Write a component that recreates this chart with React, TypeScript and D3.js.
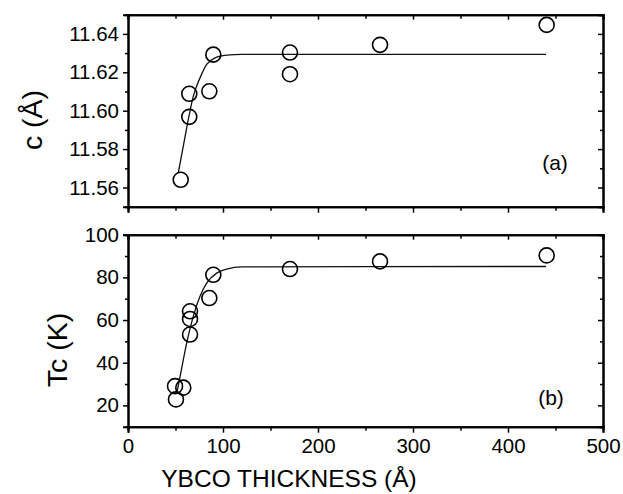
import React, { useEffect, useRef } from 'react';
import * as d3 from 'd3';

const cThickness = [55.5, 64.5, 64.5, 85.6, 89.8, 170.5, 170.5, 265.3, 440.7];
const cValues = [11.564, 11.6088, 11.5968, 11.6101, 11.6292, 11.6303, 11.619, 11.6343, 11.6447];
const cFitX = [53, 58, 64.5, 68.7, 72, 75.8, 82.8, 91.6, 103.9, 120, 440];
const cFitY = [11.5678, 11.581, 11.598, 11.6075, 11.6125, 11.6171, 11.6241, 11.6275, 11.6289, 11.6293, 11.6293];

const tcThickness = [50.5, 49.5, 58.2, 65.3, 65.3, 65.3, 85.6, 89.8, 170.5, 265.3, 440.7];
const tcValues = [22.8, 29, 28.3, 53.2, 60.5, 64.1, 70.3, 81.2, 83.9, 87.5, 90.3];
const tcFitX = [51.5, 56, 61.8, 68.7, 75.8, 82.8, 93.3, 103.9, 120, 440];
const tcFitY = [26, 36.2, 49.3, 61.7, 71.1, 77.3, 82.0, 83.9, 84.9, 85.1];

const xTicks = [0, 100, 200, 300, 400, 500];
const cTicks = [11.56, 11.58, 11.6, 11.62, 11.64];
const tcTicks = [20, 40, 60, 80, 100];

const FONT = "Arial, 'Liberation Sans', sans-serif";

export default function App() {
  const ref = useRef<SVGSVGElement>(null);

  useEffect(() => {
    const svg = d3.select(ref.current);
    svg.selectAll('*').remove();

    const left = 128, right = 603;
    const x = d3.scaleLinear().domain([0, 500]).range([left, right]);
    const xMinor = d3.range(50, 500, 100);

    const panels = [
      {
        top: 14.7, bottom: 206.7, domain: [11.55, 11.65], ticks: cTicks,
        minor: d3.range(11.55, 11.651, 0.02).map(v => +v.toFixed(3)), fmt: d3.format('.2f'),
        xs: cThickness, ys: cValues, fx: cFitX, fy: cFitY,
        letter: '(a)', lx: 555, ly: 170, xLabels: false,
      },
      {
        top: 234.7, bottom: 426.7, domain: [10, 100], ticks: tcTicks,
        minor: d3.range(10, 100, 20), fmt: d3.format('d'),
        xs: tcThickness, ys: tcValues, fx: tcFitX, fy: tcFitY,
        letter: '(b)', lx: 551, ly: 405, xLabels: true,
      },
    ];

    panels.forEach(p => {
      const y = d3.scaleLinear().domain(p.domain).range([p.bottom, p.top]);
      const g = svg.append('g');

      // bottom axis, outward ticks
      const bx = g.append('g').attr('transform', `translate(0,${p.bottom})`)
        .call(d3.axisBottom(x).tickValues(xTicks).tickSize(6).tickPadding(4)
          .tickFormat(p.xLabels ? d3.format('d') : () => ''));
      g.append('g').attr('transform', `translate(0,${p.bottom})`)
        .call(d3.axisBottom(x).tickValues(xMinor).tickSize(4).tickFormat(() => ''));
      // top mirror, inward ticks
      g.append('g').attr('transform', `translate(0,${p.top})`)
        .call(d3.axisTop(x).tickValues(xTicks).tickSize(-5).tickFormat(() => ''));
      g.append('g').attr('transform', `translate(0,${p.top})`)
        .call(d3.axisTop(x).tickValues(xMinor).tickSize(-4).tickFormat(() => ''));
      // left axis, outward ticks
      g.append('g').attr('transform', `translate(${left},0)`)
        .call(d3.axisLeft(y).tickValues(p.ticks).tickSize(5).tickPadding(4).tickFormat(p.fmt as any));
      g.append('g').attr('transform', `translate(${left},0)`)
        .call(d3.axisLeft(y).tickValues(p.minor.filter(v => !p.ticks.includes(v))).tickSize(3).tickFormat(() => ''));
      // right mirror, inward ticks
      g.append('g').attr('transform', `translate(${right},0)`)
        .call(d3.axisRight(y).tickValues(p.ticks).tickSize(-5).tickFormat(() => ''));
      g.append('g').attr('transform', `translate(${right},0)`)
        .call(d3.axisRight(y).tickValues(p.minor.filter(v => !p.ticks.includes(v))).tickSize(-3).tickFormat(() => ''));

      g.selectAll('.domain').attr('stroke', '#000').attr('stroke-width', 2);
      g.selectAll('.tick line').attr('stroke', '#000').attr('stroke-width', 1.5);
      g.selectAll('.tick text').attr('fill', '#000').style('font-family', FONT).style('font-size', '20.5px');
      bx.selectAll('.tick text').attr('dy', '0.8em');

      // fit curve
      const line = d3.line<number>()
        .x((_, i) => x(p.fx[i]))
        .y(d => y(d))
        .curve(d3.curveMonotoneX);
      g.append('path')
        .attr('d', line(p.fy))
        .attr('fill', 'none')
        .attr('stroke', '#111')
        .attr('stroke-width', 1.3);

      // points
      g.selectAll('circle.pt')
        .data(p.ys)
        .enter()
        .append('circle')
        .attr('class', 'pt')
        .attr('cx', (_, i) => x(p.xs[i]))
        .attr('cy', d => y(d))
        .attr('r', 7.5)
        .attr('fill', 'none')
        .attr('stroke', '#000')
        .attr('stroke-width', 1.6);

      g.append('text')
        .attr('x', p.lx).attr('y', p.ly)
        .attr('text-anchor', 'middle')
        .style('font-family', FONT).style('font-size', '21px')
        .text(p.letter);
    });

    // axis titles
    svg.append('text')
      .attr('transform', 'translate(42,120) rotate(-90)')
      .attr('text-anchor', 'middle')
      .style('font-family', FONT).style('font-size', '28.5px')
      .text('c (Å)');
    svg.append('text')
      .attr('transform', 'translate(67,350) rotate(-90)')
      .attr('text-anchor', 'middle')
      .style('font-family', FONT).style('font-size', '28.5px')
      .text('Tc (K)');
    svg.append('text')
      .attr('x', 289).attr('y', 487)
      .attr('text-anchor', 'middle')
      .style('font-family', FONT).style('font-size', '24.5px')
      .text('YBCO THICKNESS (Å)');
  }, []);

  return (
    <svg ref={ref} width={623} height={494}
      style={{ position: 'absolute', left: 0, top: 0, background: '#fff' }} />
  );
}
